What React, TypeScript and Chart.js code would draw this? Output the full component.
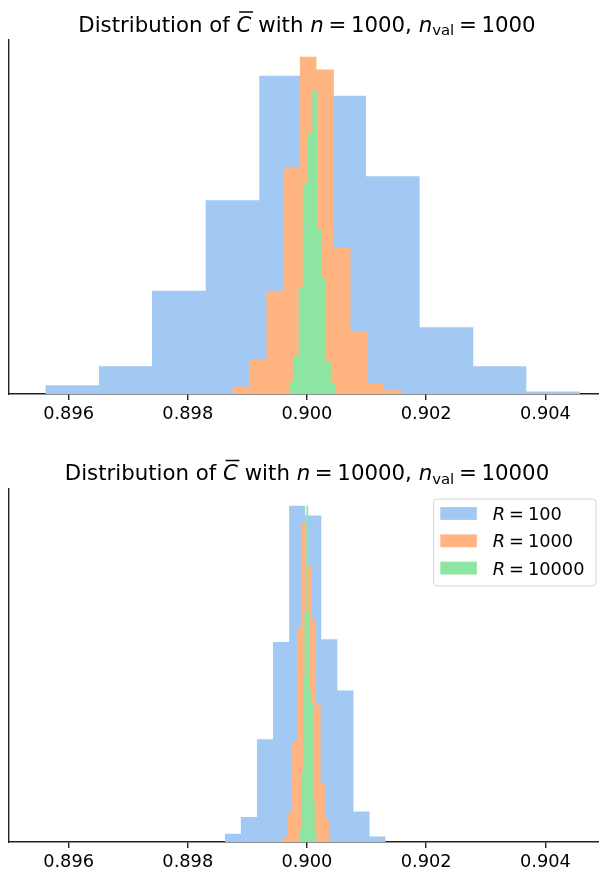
import React, { useEffect, useRef } from 'react';
import { Chart, registerables } from 'chart.js';

Chart.register(...registerables);

const FONT = '"DejaVu Sans", Verdana, sans-serif';
const BLUE = '#a1c9f4';
const ORANGE = '#ffb482';
const GREEN = '#8de5a1';

// ---------- data ----------
const xTicks = [0.896, 0.898, 0.9, 0.902, 0.904];
const rLabels = ['100', '1000', '10000'];
const topN = '1000';
const bottomN = '10000';

// top panel: n = 1000, n_val = 1000
const topEdgesR100 = [0.89561, 0.89651, 0.8974, 0.8983, 0.8992, 0.9001, 0.90099, 0.90189, 0.90279, 0.90368, 0.90458];
const topCountsR100 = [7, 22, 82, 154, 253, 237, 173, 53, 22, 2];
const topEdgesR1000 = [0.89875, 0.89903, 0.89932, 0.8996, 0.89988, 0.90016, 0.90045, 0.90073, 0.90101, 0.90129, 0.90158];
const topCountsR1000 = [6, 27, 82, 180, 268, 258, 116, 50, 8, 3];
const topEdgesR10000 = [0.8997, 0.89978, 0.89986, 0.89993, 0.90001, 0.90009, 0.90017, 0.90024, 0.90032, 0.9004, 0.90048];
const topCountsR10000 = [10, 31, 84, 167, 207, 241, 131, 93, 26, 9];

// bottom panel: n = 10000, n_val = 10000
const botEdgesR100 = [0.89862, 0.89889, 0.89916, 0.89943, 0.8997, 0.89997, 0.90024, 0.90051, 0.90078, 0.90105, 0.90132];
const botCountsR100 = [6, 18, 74, 144, 242, 235, 146, 109, 22, 4];
const botEdgesR1000 = [0.89959, 0.89967, 0.89975, 0.89983, 0.89991, 0.89999, 0.90007, 0.90015, 0.90023, 0.9003, 0.90038];
const botCountsR1000 = [4, 21, 72, 154, 230, 199, 160, 99, 42, 16];
const botEdgesR10000 = [0.89988, 0.89991, 0.89994, 0.89996, 0.89999, 0.90002, 0.90005, 0.90008, 0.9001, 0.90013, 0.90016];
const botCountsR10000 = [9, 51, 120, 166, 242, 166, 108, 100, 29, 9];

const X_MIN = 0.895;
const X_FULL_MAX = 0.905; // matplotlib axis extent (cropped on the right)
const X_VISIBLE_MAX = 0.9049;

// ---------- helpers ----------
function histPoints(edges: number[], counts: number[]) {
  const pts: { x: number; y: number }[] = [{ x: edges[0], y: 0 }];
  counts.forEach((c, i) => {
    pts.push({ x: edges[i], y: c });
    pts.push({ x: edges[i + 1], y: c });
  });
  pts.push({ x: edges[edges.length - 1], y: 0 });
  return pts;
}

type Seg = { t?: string; italic?: boolean; sub?: boolean; over?: boolean; gap?: number };

function segFont(s: Seg, size: number) {
  const sz = s.sub ? size * 0.7 : size;
  return `${s.italic ? 'italic ' : ''}${sz}px ${FONT}`;
}

function segsWidth(ctx: CanvasRenderingContext2D, segs: Seg[], size: number) {
  return segs.map((s) => {
    if (s.gap != null) return s.gap * size;
    ctx.font = segFont(s, size);
    return ctx.measureText(s.t || '').width;
  });
}

function drawSegs(ctx: CanvasRenderingContext2D, segs: Seg[], x0: number, baseline: number, size: number, align: 'center' | 'left') {
  const widths = segsWidth(ctx, segs, size);
  const total = widths.reduce((a, b) => a + b, 0);
  let x = align === 'center' ? x0 - total / 2 : x0;
  ctx.fillStyle = '#000';
  ctx.textAlign = 'left';
  ctx.textBaseline = 'alphabetic';
  segs.forEach((s, i) => {
    if (s.gap == null) {
      ctx.font = segFont(s, size);
      const y = s.sub ? baseline + 0.18 * size : baseline;
      ctx.fillText(s.t || '', x, y);
      if (s.over) {
        ctx.fillRect(x + 0.12 * size, baseline - 0.95 * size, widths[i] - 0.05 * size, 0.07 * size);
      }
    }
    x += widths[i];
  });
  return total;
}

function titleSegs(n: string): Seg[] {
  return [
    { t: 'Distribution of ' },
    { t: 'C', italic: true, over: true },
    { t: ' with ' },
    { t: 'n', italic: true },
    { gap: 0.22 },
    { t: '=' },
    { gap: 0.22 },
    { t: n },
    { t: ', ' },
    { t: 'n', italic: true },
    { t: 'val', sub: true },
    { gap: 0.22 },
    { t: '=' },
    { gap: 0.22 },
    { t: n },
  ];
}

function legendSegs(r: string): Seg[] {
  return [{ t: 'R', italic: true }, { gap: 0.22 }, { t: '=' }, { gap: 0.22 }, { t: r }];
}

type PanelCfg = {
  n: string;
  series: { edges: number[]; counts: number[] }[];
  plotTop: number;
  plotBottom: number;
  titleBaseline: number;
  legend: boolean;
};

function makeChart(canvas: HTMLCanvasElement, cfg: PanelCfg, H: number) {
  const colors = [BLUE, ORANGE, GREEN];
  const yMax = Math.max(...cfg.series.flatMap((s) => s.counts)) * 1.05;
  const deco = {
    id: 'deco',
    afterDraw(chart: any) {
      const ctx: CanvasRenderingContext2D = chart.ctx;
      const xs = chart.scales.x;
      const left = chart.chartArea.left;
      const fullRight = xs.getPixelForValue(X_FULL_MAX);
      ctx.save();
      drawSegs(ctx, titleSegs(cfg.n), (left + fullRight) / 2, cfg.titleBaseline, 21.3, 'center');
      if (cfg.legend) {
        const fs = 17.8;
        const padL = 7.3;
        const padR = 11;
        const handleW = 36.5;
        const handleH = 12.8;
        const textPad = 16;
        const rowH = 27.3;
        let maxW = 0;
        rLabels.forEach((r) => {
          const w = segsWidth(ctx, legendSegs(r), fs).reduce((a, b) => a + b, 0);
          maxW = Math.max(maxW, w);
        });
        const boxW = padL + handleW + textPad + maxW + padR;
        const boxH = rowH * rLabels.length + 5;
        const right = fullRight - 9.5;
        const boxL = right - boxW;
        const boxT = chart.chartArea.top + 9.5;
        ctx.beginPath();
        (ctx as any).roundRect(boxL + 0.5, boxT + 0.5, boxW, boxH, 3.5);
        ctx.fillStyle = 'rgba(255,255,255,0.8)';
        ctx.fill();
        ctx.strokeStyle = 'rgba(204,204,204,0.8)';
        ctx.lineWidth = 1;
        ctx.stroke();
        rLabels.forEach((r, i) => {
          const cy = boxT + 15 + i * rowH;
          ctx.fillStyle = colors[i];
          ctx.fillRect(boxL + padL, cy - handleH / 2, handleW, handleH);
          drawSegs(ctx, legendSegs(r), boxL + padL + handleW + textPad, cy + 6.6, fs, 'left');
        });
      }
      ctx.restore();
    },
  };

  return new Chart(canvas, {
    type: 'line',
    data: {
      datasets: cfg.series.map((s, i) => ({
        label: 'R = ' + rLabels[i],
        data: histPoints(s.edges, s.counts),
        backgroundColor: colors[i],
        borderColor: colors[i],
        borderWidth: 0,
        pointRadius: 0,
        fill: 'origin',
        tension: 0,
        order: cfg.series.length - i,
      })),
    },
    options: {
      animation: false,
      responsive: false,
      events: [],
      layout: { padding: { left: 9, top: cfg.plotTop, right: 0, bottom: 0 } },
      plugins: {
        legend: { display: false },
        tooltip: { enabled: false },
        title: { display: false },
      },
      scales: {
        x: {
          type: 'linear',
          min: X_MIN,
          max: X_VISIBLE_MAX,
          afterBuildTicks: (s: any) => {
            s.ticks = xTicks.map((v) => ({ value: v }));
          },
          afterFit: (s: any) => {
            s.height = H - cfg.plotBottom;
          },
          grid: {
            display: true,
            drawOnChartArea: false,
            drawTicks: true,
            tickLength: 6,
            tickWidth: 1.4,
            tickColor: '#222',
            color: '#222',
            lineWidth: 1.4,
          },
          border: { display: true, color: '#222', width: 1.4 },
          ticks: {
            callback: (v: any) => Number(v).toFixed(3),
            font: { family: FONT, size: 17.8 },
            color: '#000',
            padding: 4,
            maxRotation: 0,
            autoSkip: false,
          },
        },
        y: {
          min: 0,
          max: yMax,
          afterFit: (s: any) => {
            s.width = 0;
          },
          grid: { display: false, drawTicks: false },
          border: { display: true, color: '#222', width: 1.4 },
          ticks: { display: false },
        },
      },
    },
    plugins: [deco],
  } as any);
}

export default function App() {
  const topRef = useRef<HTMLCanvasElement>(null);
  const botRef = useRef<HTMLCanvasElement>(null);
  const H = 435;

  useEffect(() => {
    const charts: Chart[] = [];
    if (topRef.current) {
      charts.push(
        makeChart(
          topRef.current,
          {
            n: topN,
            series: [
              { edges: topEdgesR100, counts: topCountsR100 },
              { edges: topEdgesR1000, counts: topCountsR1000 },
              { edges: topEdgesR10000, counts: topCountsR10000 },
            ],
            plotTop: 40,
            plotBottom: 394,
            titleBaseline: 31.5,
            legend: false,
          },
          H
        )
      );
    }
    if (botRef.current) {
      charts.push(
        makeChart(
          botRef.current,
          {
            n: bottomN,
            series: [
              { edges: botEdgesR100, counts: botCountsR100 },
              { edges: botEdgesR1000, counts: botCountsR1000 },
              { edges: botEdgesR10000, counts: botCountsR10000 },
            ],
            plotTop: 54,
            plotBottom: 407,
            titleBaseline: 45,
            legend: true,
          },
          H
        )
      );
    }
    return () => charts.forEach((c) => c.destroy());
  }, []);

  return (
    <div style={{ position: 'absolute', left: 0, top: 0, width: 599, height: 870, background: '#fff', overflow: 'hidden' }}>
      <canvas ref={topRef} width={599} height={H} style={{ position: 'absolute', left: 0, top: 0, width: 599, height: H }} />
      <canvas ref={botRef} width={599} height={H} style={{ position: 'absolute', left: 0, top: H, width: 599, height: H }} />
    </div>
  );
}
